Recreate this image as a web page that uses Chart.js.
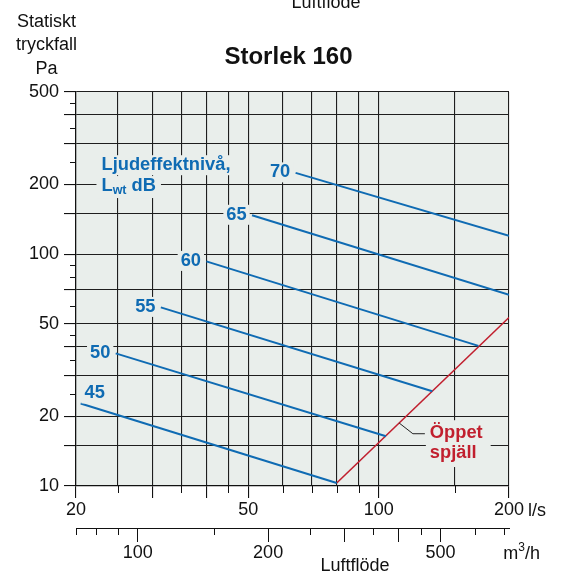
<!DOCTYPE html>
<html>
<head>
<meta charset="utf-8">
<script src="https://cdn.jsdelivr.net/npm/chart.js@4"></script>
<style>
  html, body { margin: 0; padding: 0; background: #fff; }
  #wrap { position: relative; width: 561px; height: 573px; }
</style>
</head>
<body>
<div id="wrap"><canvas id="chart" width="561" height="573"></canvas></div>
<script>
// Ljudeffektnivå lines: flow (l/s) and pressure (Pa) at each end
const soundLevels = ['45', '50', '55', '60', '65', '70'];
const flowStart = [20.5, 24.7, 31.4, 40, 51, 64.3];
const pressureStart = [22.7, 37.3, 58.9, 93, 147, 224];
const flowEnd = [80, 104, 133, 170, 200, 200];
const pressureEnd = [10.3, 16.4, 25.6, 40.2, 66.8, 120];

// Öppet spjäll
const damperFlow = [80, 200];
const damperPressure = [10.3, 53.3];

// axes
const flowGrid = [20, 25, 30, 35, 40, 45, 50, 60, 70, 80, 90, 100, 150, 200];
const flowShortTicks = [25, 35, 45, 60, 70, 80, 90, 150];
const flowLabels = [20, 50, 100, 200];
const pressureGrid = [10, 15, 20, 30, 40, 50, 70, 100, 150, 200, 300, 400, 500];
const pressureMinor = [25, 35, 45, 60, 80, 90, 250, 350, 450];
const pressureLabels = [10, 20, 50, 100, 200, 500];
const m3hTicks = [72, 80, 90, 100, 150, 200, 250, 300, 350, 400, 450, 500, 600, 700];
const m3hLongTicks = [100, 200, 300, 400, 500];
const m3hLabels = [100, 200, 500];

const FONT = '"Liberation Sans", Arial, Helvetica, sans-serif';
const BLUE = '#0f6bb3';
const RED = '#c11f2e';
const PLOT_BG = '#e9eeeb';
const GRID = '#1e1e1e';
const INK = '#111';
const LABEL_FONT = 'bold 18.3px ' + FONT;

const datasets = soundLevels.map((lvl, i) => ({
    label: lvl + ' dB',
    data: [{ x: flowStart[i], y: pressureStart[i] }, { x: flowEnd[i], y: pressureEnd[i] }],
    borderColor: BLUE,
    borderWidth: 2,
    pointRadius: 0,
    xAxisID: 'x',
    yAxisID: 'y'
}));
datasets.push({
    label: 'Öppet spjäll',
    data: damperFlow.map((f, i) => ({ x: f, y: damperPressure[i] })),
    borderColor: RED,
    borderWidth: 1.6,
    pointRadius: 0,
    xAxisID: 'x',
    yAxisID: 'y'
});

// grey plot area
const plotBackground = {
    id: 'plotBackground',
    beforeDraw(chart) {
        const { ctx, chartArea: a } = chart;
        ctx.save();
        ctx.fillStyle = PLOT_BG;
        ctx.fillRect(a.left, a.top, a.right - a.left, a.bottom - a.top);
        ctx.restore();
    }
};

// the short tick marks that have no grid line
const shortTicks = {
    id: 'shortTicks',
    afterDraw(chart) {
        const { ctx, scales } = chart;
        ctx.save();
        ctx.strokeStyle = INK;
        ctx.lineWidth = 1;
        ctx.beginPath();
        pressureMinor.forEach(v => {
            const y = Math.round(scales.y.getPixelForValue(v)) + 0.5;
            ctx.moveTo(scales.y.right - 6, y);
            ctx.lineTo(scales.y.right, y);
        });
        flowShortTicks.forEach(v => {
            const x = Math.round(scales.x.getPixelForValue(v)) + 0.5;
            ctx.moveTo(x, scales.x.top);
            ctx.lineTo(x, scales.x.top + 7);
        });
        m3hTicks.filter(v => !m3hLongTicks.includes(v)).forEach(v => {
            const x = Math.round(scales.x2.getPixelForValue(v)) + 0.5;
            ctx.moveTo(x, scales.x2.top);
            ctx.lineTo(x, scales.x2.top + 7);
        });
        ctx.stroke();
        ctx.restore();
    }
};

function maskedText(ctx, text, x, y, pad) {
    const w = ctx.measureText(text).width;
    ctx.save();
    ctx.fillStyle = PLOT_BG;
    ctx.fillRect(x - pad, y - 15, w + pad * 2, 20);
    ctx.restore();
    ctx.fillText(text, x, y);
}

// labels inside the plot
const notes = {
    id: 'notes',
    afterDatasetsDraw(chart) {
        const { ctx, scales } = chart;
        ctx.save();
        ctx.font = LABEL_FONT;
        ctx.textBaseline = 'alphabetic';
        ctx.textAlign = 'left';

        // level numbers next to the start of each line
        soundLevels.forEach((lvl, i) => {
            const p = chart.getDatasetMeta(i).data[0];
            const w = ctx.measureText(lvl).width;
            const cx = i === 0 ? p.x + 14 : p.x - 15.5;
            const by = i === 0 ? p.y - 5 : p.y + 4.5;
            ctx.fillStyle = BLUE;
            maskedText(ctx, lvl, cx - w / 2, by, 3);
        });

        // Ljudeffektnivå, Lwt dB
        const nx = scales.x.getPixelForValue(22.9);
        const ny1 = scales.y.getPixelForValue(230);
        const ny2 = scales.y.getPixelForValue(187);
        ctx.fillStyle = BLUE;
        maskedText(ctx, 'Ljudeffektnivå,', nx, ny1, 5);
        const wL = ctx.measureText('L').width;
        ctx.font = 'bold 12.5px ' + FONT;
        const wWt = ctx.measureText('wt').width;
        ctx.font = LABEL_FONT;
        const wDb = ctx.measureText(' dB').width;
        ctx.fillStyle = PLOT_BG;
        ctx.fillRect(nx - 5, ny2 - 15, wL + wWt + wDb + 10, 22);
        ctx.fillStyle = BLUE;
        ctx.fillText('L', nx, ny2);
        ctx.fillText(' dB', nx + wL + wWt, ny2);
        ctx.font = 'bold 12.5px ' + FONT;
        ctx.fillText('wt', nx + wL, ny2 + 3);

        // Öppet spjäll with leader line
        ctx.font = LABEL_FONT;
        const rx = scales.x.getPixelForValue(131.3);
        const ry1 = scales.y.getPixelForValue(16.07);
        const ry2 = scales.y.getPixelForValue(13.2);
        const rw = Math.max(ctx.measureText('Öppet').width, ctx.measureText('spjäll').width);
        ctx.fillStyle = PLOT_BG;
        ctx.fillRect(rx - 4, ry1 - 18, rw + 12, ry2 - ry1 + 27);
        ctx.fillStyle = RED;
        ctx.fillText('Öppet', rx, ry1);
        ctx.fillText('spjäll', rx, ry2);

        const red = chart.getDatasetMeta(soundLevels.length).data;
        const sx = rx - 30.7;
        const t = (sx - red[0].x) / (red[1].x - red[0].x);
        const sy = red[0].y + t * (red[1].y - red[0].y);
        ctx.strokeStyle = '#222';
        ctx.lineWidth = 1;
        ctx.beginPath();
        ctx.moveTo(sx, sy);
        ctx.lineTo(rx - 17, ry1 - 4.5);
        ctx.lineTo(rx - 5, ry1 - 4.5);
        ctx.stroke();
        ctx.restore();
    }
};

// titles and unit texts outside the plot
const outerTexts = {
    id: 'outerTexts',
    afterDraw(chart) {
        const { ctx } = chart;
        ctx.save();
        ctx.fillStyle = INK;
        ctx.textBaseline = 'alphabetic';
        ctx.font = '18px ' + FONT;
        ctx.textAlign = 'center';
        ctx.fillText('Luftflöde', 326, 8);
        ctx.fillText('Statiskt', 46.5, 27.3);
        ctx.fillText('tryckfall', 46.5, 50);
        ctx.fillText('Pa', 46.5, 74);
        ctx.fillText('Luftflöde', 355, 571);
        ctx.font = 'bold 24px ' + FONT;
        ctx.fillText('Storlek 160', 288.5, 64);

        ctx.font = '18px ' + FONT;
        ctx.textAlign = 'left';
        ctx.fillText('l/s', 528, 515.7);
        ctx.fillText('m', 503.3, 559);
        const wm = ctx.measureText('m').width;
        ctx.font = '12px ' + FONT;
        ctx.fillText('3', 503.3 + wm, 551);
        const w3 = ctx.measureText('3').width;
        ctx.font = '18px ' + FONT;
        ctx.fillText('/h', 503.3 + wm + w3, 559);
        ctx.restore();
    }
};

const tickFont = { family: FONT, size: 18 };

new Chart(document.getElementById('chart'), {
    type: 'line',
    data: { datasets: datasets },
    options: {
        responsive: false,
        animation: false,
        events: [],
        layout: { padding: { left: 0, right: 52, top: 92, bottom: 0 } },
        plugins: {
            legend: { display: false },
            tooltip: { enabled: false },
            title: { display: false }
        },
        scales: {
            x: {
                type: 'logarithmic',
                position: 'bottom',
                min: 20,
                max: 200,
                afterBuildTicks: s => { s.ticks = flowGrid.map(v => ({ value: v })); },
                afterFit: s => { s.height = 42; },
                grid: {
                    color: GRID,
                    lineWidth: 1.1,
                    tickLength: 12,
                    tickColor: c => flowShortTicks.includes(c.tick && c.tick.value) ? 'rgba(0,0,0,0)' : INK
                },
                border: { color: INK, width: 1.2 },
                ticks: {
                    autoSkip: false,
                    maxRotation: 0,
                    padding: 1,
                    color: INK,
                    font: tickFont,
                    callback: v => flowLabels.includes(v) ? String(v) : ''
                }
            },
            x2: {
                type: 'logarithmic',
                position: 'bottom',
                min: 72,
                max: 720,
                afterBuildTicks: s => { s.ticks = m3hLongTicks.map(v => ({ value: v })); },
                afterFit: s => { s.height = 45; },
                grid: { drawOnChartArea: false, tickLength: 14, tickColor: INK },
                border: { color: INK, width: 1 },
                ticks: {
                    autoSkip: false,
                    maxRotation: 0,
                    padding: 0,
                    color: INK,
                    font: tickFont,
                    callback: v => m3hLabels.includes(v) ? String(v) : ''
                }
            },
            y: {
                type: 'logarithmic',
                position: 'left',
                min: 10,
                max: 500,
                afterBuildTicks: s => { s.ticks = pressureGrid.map(v => ({ value: v })); },
                afterFit: s => { s.width = 76; },
                grid: { color: GRID, lineWidth: 1.1, tickLength: 12, tickColor: INK },
                border: { color: INK, width: 1.2 },
                ticks: {
                    autoSkip: false,
                    padding: 5,
                    color: INK,
                    font: tickFont,
                    callback: v => pressureLabels.includes(v) ? String(v) : ''
                }
            }
        }
    },
    plugins: [plotBackground, shortTicks, notes, outerTexts]
});
</script>
</body>
</html>
